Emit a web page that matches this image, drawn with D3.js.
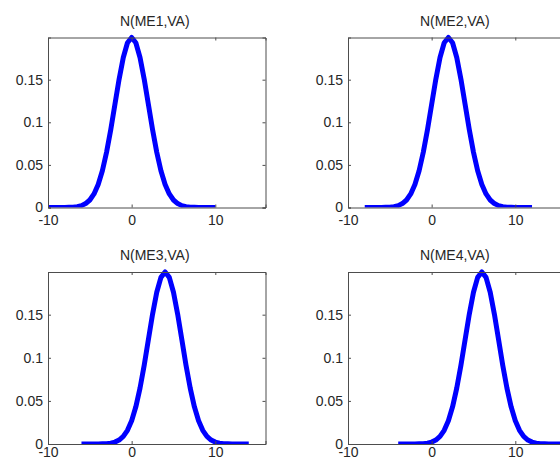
<!DOCTYPE html>
<html>
<head>
<meta charset="utf-8">
<script src="https://cdn.jsdelivr.net/npm/d3@7/dist/d3.min.js"></script>
<style>
  html, body { margin: 0; padding: 0; background: #fff; }
  svg { display: block; }
  text { font-family: "Liberation Sans", Arial, sans-serif; }
</style>
</head>
<body>
<svg id="chart" width="560" height="464"></svg>
<script>
// ---- data ----
const titles = ["N(ME1,VA)", "N(ME2,VA)", "N(ME3,VA)", "N(ME4,VA)"];
const x1 = [-10,-9.5,-9,-8.5,-8,-7.5,-7,-6.5,-6,-5.5,-5,-4.5,-4,-3.5,-3,-2.5,-2,-1.5,-1,-0.5,0,
            0.5,1,1.5,2,2.5,3,3.5,4,4.5,5,5.5,6,6.5,7,7.5,8,8.5,9,9.5,10];
const x2 = [-8,-7.5,-7,-6.5,-6,-5.5,-5,-4.5,-4,-3.5,-3,-2.5,-2,-1.5,-1,-0.5,0,0.5,1,1.5,2,
            2.5,3,3.5,4,4.5,5,5.5,6,6.5,7,7.5,8,8.5,9,9.5,10,10.5,11,11.5,12];
const x3 = [-6,-5.5,-5,-4.5,-4,-3.5,-3,-2.5,-2,-1.5,-1,-0.5,0,0.5,1,1.5,2,2.5,3,3.5,4,
            4.5,5,5.5,6,6.5,7,7.5,8,8.5,9,9.5,10,10.5,11,11.5,12,12.5,13,13.5,14];
const x4 = [-4,-3.5,-3,-2.5,-2,-1.5,-1,-0.5,0,0.5,1,1.5,2,2.5,3,3.5,4,4.5,5,5.5,6,
            6.5,7,7.5,8,8.5,9,9.5,10,10.5,11,11.5,12,12.5,13,13.5,14,14.5,15,15.5,16];
const pdfValues = [0,0,0,0,0.0001,0.0002,0.0004,0.001,0.0022,0.0046,0.0088,0.0159,0.027,0.0431,
                   0.0648,0.0913,0.121,0.1506,0.176,0.1933,0.1995,0.1933,0.176,0.1506,0.121,0.0913,
                   0.0648,0.0431,0.027,0.0159,0.0088,0.0046,0.0022,0.001,0.0004,0.0002,0.0001,0,0,0,0];
const xSeries = [x1, x2, x3, x4];
const xTicks = [-10, 0, 10];
const xTickLabels = ["-10", "0", "10"];
const yTicks = [0, 0.05, 0.1, 0.15];
const yTickLabels = ["0", "0.05", "0.1", "0.15"];
const xDomain = [-10, 16];
const yDomain = [0, 0.1995];

// ---- layout ----
const panels = [
  {left: 48,  top: 37.5, height: 170, pad: 8},
  {left: 348, top: 37.5, height: 170, pad: 8},
  {left: 48,  top: 272,  height: 172, pad: 3},
  {left: 348, top: 272,  height: 172, pad: 3}
];
const panelWidth = 217.5;
const axisColor = "#4d4d4d";
const textColor = "#262626";

const svg = d3.select("#chart");

panels.forEach((p, i) => {
  const g = svg.append("g").attr("transform", `translate(${p.left},${p.top})`);
  const x = d3.scaleLinear().domain(xDomain).range([0, panelWidth]);
  const y = d3.scaleLinear().domain(yDomain).range([p.height, 0]);

  const clipId = "clip" + i;
  g.append("clipPath").attr("id", clipId)
    .append("rect").attr("x", 0).attr("y", -4).attr("width", panelWidth).attr("height", p.height + 4);

  const data = xSeries[i].map((xv, k) => [xv, pdfValues[k]]);
  g.append("path")
    .datum(data)
    .attr("clip-path", `url(#${clipId})`)
    .attr("fill", "none")
    .attr("stroke", "#0000ff")
    .attr("stroke-width", 5)
    .attr("stroke-linejoin", "round")
    .attr("d", d3.line().x(d => x(d[0])).y(d => y(d[1])));

  const bottom = d3.axisBottom(x).tickValues(xTicks).tickSize(-3).tickPadding(p.pad)
    .tickFormat((d, k) => xTickLabels[k]);
  const top = d3.axisTop(x).tickValues(xTicks).tickSize(-3).tickFormat("");
  const left = d3.axisLeft(y).tickValues(yTicks).tickSize(-3).tickPadding(5)
    .tickFormat((d, k) => yTickLabels[k]);
  const right = d3.axisRight(y).tickValues(yTicks).tickSize(-3).tickFormat("");

  const styleAxis = sel => {
    sel.selectAll("path.domain").attr("stroke", axisColor).attr("stroke-width", 1);
    sel.selectAll(".tick line").attr("stroke", axisColor);
    sel.selectAll("text").attr("fill", textColor).style("font-size", "14px")
      .style("font-family", "'Liberation Sans', Arial, sans-serif");
  };

  g.append("g").attr("transform", `translate(0,${p.height})`).call(bottom).call(styleAxis);
  g.append("g").call(top).call(styleAxis);
  g.append("g").call(left).call(styleAxis);
  g.append("g").attr("transform", `translate(${panelWidth},0)`).call(right).call(styleAxis);

  g.append("text")
    .attr("x", panelWidth / 2 - 2)
    .attr("y", -12)
    .attr("text-anchor", "middle")
    .attr("fill", textColor)
    .style("font-size", "14px")
    .text(titles[i]);
});
</script>
</body>
</html>
